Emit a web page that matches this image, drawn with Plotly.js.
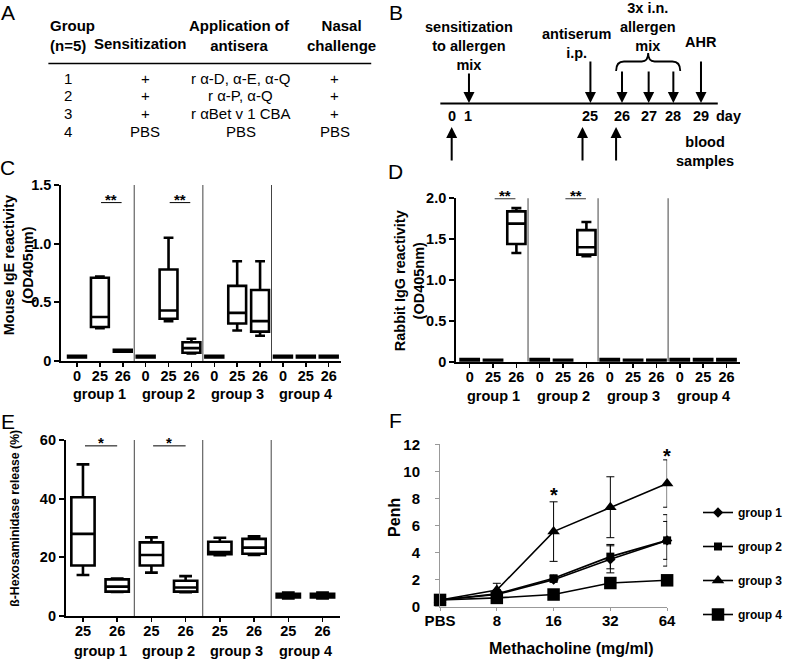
<!DOCTYPE html>
<html><head><meta charset="utf-8">
<script src="https://cdn.plot.ly/plotly-3.0.1.min.js"></script>
<style>html,body{margin:0;padding:0;background:#fff}#chart{width:788px;height:666px}</style>
</head><body><div id="chart"></div>
<script>
// ================= DATA =================
// Panel A table
const tableHeaders = ['Group<br>(n=5)', 'Sensitization', 'Application of<br>antisera', 'Nasal<br>challenge'];
const tableGroups = ['1', '2', '3', '4'];
const tableSensitization = ['+', '+', '+', 'PBS'];
const tableAntisera = ['r α-D, α-E, α-Q', 'r α-P, α-Q', 'r αBet v 1 CBA', 'PBS'];
const tableNasal = ['+', '+', '+', 'PBS'];

// Panel B timeline
const timelineDays = ['0', '1', '25', '26', '27', '28', '29'];
const timelineEvents = ['sensitization<br>to allergen<br>mix', 'antiserum<br>i.p.', '3x i.n.<br>allergen<br>mix', 'AHR', 'blood<br>samples'];

// Shared labels
const groupLabels = ['group 1', 'group 2', 'group 3', 'group 4'];
const serumDays = ['0', '25', '26'];
const degranDays = ['25', '26'];

// Panel C: Mouse IgE reactivity (OD405nm), per group x day 0/25/26
const igeLower  = [0.030, 0.28, 0.080, 0.030, 0.34, 0.065, 0.030, 0.26, 0.215, 0.030, 0.030, 0.030];
const igeQ1     = [0.030, 0.29, 0.080, 0.030, 0.36, 0.070, 0.030, 0.32, 0.25, 0.030, 0.030, 0.030];
const igeMedian = [0.037, 0.375, 0.088, 0.037, 0.43, 0.11, 0.037, 0.41, 0.34, 0.037, 0.037, 0.037];
const igeQ3     = [0.045, 0.71, 0.095, 0.045, 0.78, 0.16, 0.045, 0.64, 0.605, 0.045, 0.045, 0.045];
const igeUpper  = [0.045, 0.72, 0.095, 0.045, 1.05, 0.19, 0.045, 0.85, 0.85, 0.045, 0.045, 0.045];

// Panel D: Rabbit IgG reactivity (OD405nm)
const iggLower  = [0.012, 0.010, 1.33, 0.012, 0.010, 1.29, 0.012, 0.010, 0.010, 0.012, 0.012, 0.012];
const iggQ1     = [0.012, 0.010, 1.44, 0.012, 0.010, 1.31, 0.012, 0.010, 0.010, 0.012, 0.012, 0.012];
const iggMedian = [0.020, 0.015, 1.69, 0.020, 0.015, 1.40, 0.020, 0.015, 0.015, 0.020, 0.020, 0.020];
const iggQ3     = [0.032, 0.022, 1.84, 0.032, 0.022, 1.61, 0.032, 0.022, 0.022, 0.032, 0.032, 0.032];
const iggUpper  = [0.032, 0.022, 1.88, 0.032, 0.022, 1.71, 0.032, 0.022, 0.022, 0.032, 0.032, 0.032];

// Panel E: beta-Hexosaminidase release (%), per group x day 25/26
const hexLower  = [14.0, 8.2, 14.8, 8.1, 20.7, 20.8, 6.0, 6.0];
const hexQ1     = [17.2, 8.3, 17.2, 8.3, 21.1, 21.2, 6.3, 6.3];
const hexMedian = [28.0, 10.0, 20.8, 9.7, 21.8, 23.3, 7.0, 7.0];
const hexQ3     = [40.5, 12.5, 25.1, 12.0, 25.3, 26.3, 7.6, 7.6];
const hexUpper  = [51.7, 12.8, 26.8, 13.6, 26.7, 27.2, 8.0, 8.0];

// Panel F: Penh vs Methacholine
const doses = ['PBS', '8', '16', '32', '64'];
const penhGroup1 = [0.5, 0.9, 2.0, 3.5, 4.9];
const penhErr1   = [0.1, 0.3, 0.2, 1.0, 1.9];
const penhGroup2 = [0.5, 0.95, 2.1, 3.7, 4.9];
const penhErr2   = [0.1, 0.3, 0.2, 0.9, 1.4];
const penhGroup3 = [0.5, 1.23, 5.55, 7.35, 9.1];
const penhErr3   = [0.1, 0.5, 2.2, 2.25, 1.75];
const penhGroup4 = [0.5, 0.65, 0.9, 1.75, 1.95];
const penhErr4   = [0.1, 0.1, 0.2, 0.2, 0.2];

// ================= LAYOUT HELPERS =================
const W = 788, H = 666;
const FONT = 'Liberation Sans, Arial, Helvetica, sans-serif';
const px = x => x / W;
const py = y => 1 - y / H;
const annotations = [];
const shapes = [];

function txt(text, x, y, o = {}) {
  annotations.push(Object.assign({
    text, x: px(x), y: py(y), xref: 'paper', yref: 'paper',
    xanchor: 'center', yanchor: 'middle', showarrow: false,
    font: {family: FONT, size: o.size || 14.5, color: '#000', weight: o.weight || 'bold'},
    align: o.align || 'center'
  }, o.extra || {}));
}
function arrow(x, yTip, yTail) {
  annotations.push({
    text: '', x: px(x), y: py(yTip), xref: 'paper', yref: 'paper',
    ax: 0, ay: yTail - yTip, axref: 'pixel', ayref: 'pixel',
    showarrow: true, arrowhead: 2, arrowsize: 1.1, arrowwidth: 2, arrowcolor: '#000', standoff: 0
  });
}
function pline(x0, y0, x1, y1, w) {
  shapes.push({type: 'line', xref: 'paper', yref: 'paper', x0: px(x0), y0: py(y0), x1: px(x1), y1: py(y1),
    line: {color: '#000', width: w}});
}

// Panel letters
[['A', 8, 12], ['B', 401, 12], ['C', 8, 168], ['D', 401, 171], ['E', 8, 421], ['F', 401, 420]]
  .forEach(([t, x, y]) => txt(t, x, y, {size: 21, weight: 'normal'}));

// ---- Panel A table ----
txt(tableHeaders[0], 49, 35.5, {size: 15, align: 'left', extra: {xanchor: 'left'}});
txt(tableHeaders[1], 142.5, 44, {size: 15});
txt(tableHeaders[2], 242.5, 35.5, {size: 15});
txt(tableHeaders[3], 346, 35.5, {size: 15});
pline(49, 63.5, 376, 63.5, 1.5);
const rowY = [78.5, 96, 113.5, 131];
const colX = [69, 147, 244, 339];
tableGroups.forEach((g, i) => {
  txt(g, colX[0], rowY[i], {size: 15, weight: 'normal'});
  txt(tableSensitization[i], colX[1], rowY[i], {size: 15, weight: 'normal'});
  txt(tableAntisera[i], colX[2], rowY[i], {size: 15, weight: 'normal'});
  txt(tableNasal[i], colX[3], rowY[i], {size: 15, weight: 'normal'});
});

// ---- Panel B timeline ----
const dayX = [458, 474, 598, 630, 657, 682, 710];
pline(446, 103.5, 727, 103.5, 2);
timelineDays.forEach((d, i) => txt(d, dayX[i], 115.5));
txt('day', 738, 115.5);
txt(timelineEvents[0], 475, 45.5);
txt(timelineEvents[1], 584, 43.5);
txt(timelineEvents[2], 656.7, 27);
txt(timelineEvents[3], 710, 42.5);
txt(timelineEvents[4], 714, 151.5);
arrow(475, 103, 72);
arrow(598, 103, 60);
arrow(630, 103, 70);
arrow(657, 103, 70);
arrow(682, 103, 70);
arrow(710, 103, 60);
arrow(457.5, 127, 162);
arrow(590, 127, 162);
arrow(624, 127, 162);
// curly brace
(function () {
  const P = (x, y) => px(x).toFixed(5) + ',' + py(y).toFixed(5);
  const path = 'M' + P(624, 71) + ' Q' + P(624, 61.5) + ' ' + P(632, 61.5) + ' L' + P(650, 61.5) +
    ' Q' + P(656.5, 61.5) + ' ' + P(656.5, 53) + ' Q' + P(656.5, 61.5) + ' ' + P(663, 61.5) +
    ' L' + P(681, 61.5) + ' Q' + P(689, 61.5) + ' ' + P(689, 71);
  shapes.push({type: 'path', xref: 'paper', yref: 'paper', path, line: {color: '#000', width: 1.8}});
})();

// ---- Box panels ----
function boxTrace(xa, ya, lo, q1, med, q3, hi, width) {
  return {
    type: 'box', xaxis: xa, yaxis: ya, x: med.map((_, i) => i),
    lowerfence: lo, q1: q1, median: med, q3: q3, upperfence: hi,
    width: width, whiskerwidth: 0.55, fillcolor: '#fff', boxpoints: false,
    line: {color: '#000', width: 2.6}, showlegend: false, hoverinfo: 'skip'
  };
}
const traces = [
  boxTrace('x', 'y', igeLower, igeQ1, igeMedian, igeQ3, igeUpper, 0.78),
  boxTrace('x2', 'y2', iggLower, iggQ1, iggMedian, iggQ3, iggUpper, 0.78),
  boxTrace('x3', 'y3', hexLower, hexQ1, hexMedian, hexQ3, hexUpper, 0.68)
];

function sep(xref, yref, xs, y0, y1) {
  xs.forEach(x => shapes.push({type: 'line', xref, yref, x0: x, x1: x, y0, y1, line: {color: '#444', width: 1}}));
}
function sig(xref, yref, x0, x1, y, stars) {
  shapes.push({type: 'line', xref, yref, x0, x1, y0: y, y1: y, line: {color: '#000', width: 1}});
  annotations.push({text: stars, xref, yref, x: (x0 + x1) / 2, y: y, xanchor: 'center', yanchor: 'middle',
    yshift: 3, showarrow: false, font: {family: FONT, size: 15, weight: 'bold', color: '#000'}});
}
sep('x', 'y', [2.5, 5.5, 8.5], 0, 1.52);
sep('x2', 'y2', [2.5, 5.5, 8.5], 0, 2.04);
sep('x3', 'y3', [1.5, 3.5, 5.5], 0, 61);
sig('x', 'y', 1.05, 1.95, 1.35, '**');
sig('x', 'y', 4.05, 4.95, 1.35, '**');
sig('x2', 'y2', 1.07, 1.96, 1.995, '**');
sig('x2', 'y2', 4.1, 4.98, 1.995, '**');
sig('x3', 'y3', 0.06, 1.0, 58, '*');
sig('x3', 'y3', 2.05, 3.0, 58, '*');

// group labels under box panels
function groupAnn(xref, nPer, yPx) {
  groupLabels.forEach((g, i) => annotations.push({
    text: g, xref, yref: 'paper', x: i * nPer + (nPer - 1) / 2, y: py(yPx),
    xanchor: 'center', yanchor: 'middle', showarrow: false,
    font: {family: FONT, size: 14.5, weight: 'bold', color: '#000'}
  }));
}
groupAnn('x', 3, 394);
groupAnn('x2', 3, 396);
groupAnn('x3', 2, 651);

// axis titles
txt('Mouse IgE reactivity<br>(OD405nm)', 18.5, 265, {extra: {textangle: -90}});
txt('Rabbit IgG reactivity<br>(OD405nm)', 414.5, 281, {extra: {textangle: -90}});
txt('ß-Hexosaminidase release (%)', 15, 518, {size: 12.3, extra: {textangle: -90}});
txt('Penh', 399, 517, {size: 16, extra: {textangle: -90}});
txt('Methacholine (mg/ml)', 578, 648, {size: 16});

// ---- Panel F lines ----
function lineTrace(name, y, err, symbol, size) {
  return {
    type: 'scatter', mode: 'lines+markers', name, xaxis: 'x4', yaxis: 'y4',
    x: doses.map((_, i) => i), y, cliponaxis: false, legendgroup: name,
    line: {color: '#000', width: 1.6},
    marker: {symbol, size, color: '#000'},
    error_y: {type: 'data', array: err, visible: true, color: '#000', thickness: 1, width: 4},
    hoverinfo: 'skip'
  };
}
traces.push(
  lineTrace('group 1', penhGroup1, penhErr1, 'diamond', 8),
  lineTrace('group 2', penhGroup2, penhErr2, 'square', 8),
  lineTrace('group 3', penhGroup3, penhErr3, 'triangle-up', 11),
  lineTrace('group 4', penhGroup4, penhErr4, 'square', 12.5)
);
annotations.push({text: '*', xref: 'x4', yref: 'y4', x: 2, y: 8.5, yshift: -3, showarrow: false,
  font: {family: FONT, size: 20, weight: 'bold', color: '#000'}});
annotations.push({text: '*', xref: 'x4', yref: 'y4', x: 4, y: 11.45, yshift: -4, showarrow: false,
  font: {family: FONT, size: 20, weight: 'bold', color: '#000'}});

// ---- axes ----
const tickFont = {family: FONT, size: 14.5, weight: 'bold', color: '#000'};
function boxX(domain, range, n, labels) {
  return {domain, range, tickvals: Array.from({length: n}, (_, i) => i),
    ticktext: groupLabels.flatMap(() => labels), tickfont: tickFont,
    showline: true, linewidth: 2, linecolor: '#000', ticks: 'outside', ticklen: 4, tickwidth: 1.5,
    tickcolor: '#000', showgrid: false, zeroline: false, fixedrange: true, ticklabelstandoff: -3};
}
function boxY(domain, range, tickvals, ticktext) {
  return {domain, range, tickvals, ticktext, tickfont: tickFont,
    showline: true, linewidth: 2, linecolor: '#000', ticks: 'outside', ticklen: 5, tickwidth: 2,
    tickcolor: '#000', showgrid: false, zeroline: false, fixedrange: true};
}

const layout = {
  width: W, height: H, margin: {l: 0, r: 0, t: 0, b: 0},
  paper_bgcolor: '#fff', plot_bgcolor: 'rgba(0,0,0,0)',
  font: {family: FONT, color: '#000'},
  showlegend: true,
  legend: {x: px(707), y: py(498), xanchor: 'left', yanchor: 'top', bgcolor: 'rgba(0,0,0,0)',
    font: {family: FONT, size: 12, weight: 'bold', color: '#000'}, tracegroupgap: 15, itemwidth: 30},
  xaxis: Object.assign(boxX([px(62), px(345)], [-0.69, 11.52], 12, serumDays), {anchor: 'y'}),
  yaxis: Object.assign(boxY([py(361), py(185)], [0, 1.5], [0, 0.5, 1, 1.5], ['0', '0.5', '1.0', '1.5']), {anchor: 'x'}),
  xaxis2: Object.assign(boxX([px(462), px(750)], [-0.58, 11.6], 12, serumDays), {anchor: 'y2'}),
  yaxis2: Object.assign(boxY([py(361.7), py(198.3)], [0, 2], [0, 0.5, 1, 1.5, 2], ['0', '0.5', '1.0', '1.5', '2.0']), {anchor: 'x2'}),
  xaxis3: Object.assign(boxX([px(66.7), px(344)], [-0.5, 7.5], 8, degranDays), {anchor: 'y3'}),
  yaxis3: Object.assign(boxY([py(616), py(440)], [0, 60], [0, 20, 40, 60], ['0', '20', '40', '60']), {anchor: 'x3'}),
  xaxis4: {domain: [px(445.7), px(675.7)], range: [0, 4], anchor: 'y4',
    tickvals: doses.map((_, i) => i), ticktext: doses,
    tickfont: {family: FONT, size: 15, weight: 'bold', color: '#000'},
    showline: true, linewidth: 1, linecolor: '#999', ticks: 'outside', ticklen: 3, tickcolor: '#999',
    showgrid: false, zeroline: false, fixedrange: true, ticklabelstandoff: -3},
  yaxis4: {domain: [py(606.7), py(444.3)], range: [0, 12], anchor: 'x4', dtick: 2,
    tickfont: {family: FONT, size: 15, weight: 'bold', color: '#000'},
    showline: true, linewidth: 1, linecolor: '#999', ticks: 'outside', ticklen: 4, tickcolor: '#999',
    showgrid: false, zeroline: false, fixedrange: true, ticklabelstandoff: 12},
  annotations, shapes
};

Plotly.newPlot('chart', traces, layout, {staticPlot: true, displayModeBar: false});
</script></body></html>
